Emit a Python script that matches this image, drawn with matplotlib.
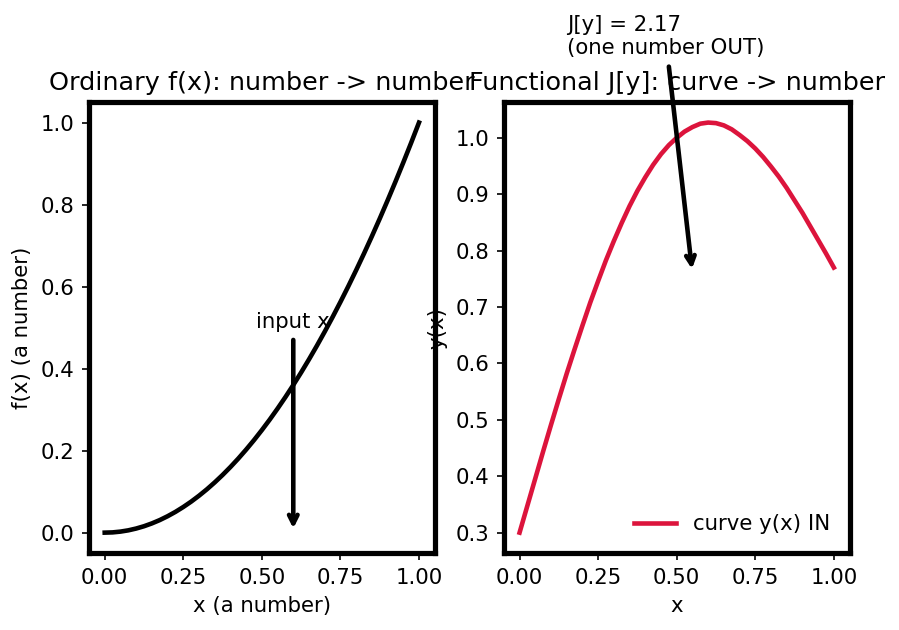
import matplotlib
matplotlib.use('Agg')
import matplotlib.pyplot as plt

plt.rcParams['font.size'] = 10.2

# left panel: ordinary function f(x)
x_left = [0.0, 0.025, 0.05, 0.075, 0.1, 0.125, 0.15, 0.175, 0.2, 0.225, 0.25,
          0.275, 0.3, 0.325, 0.35, 0.375, 0.4, 0.425, 0.45, 0.475, 0.5,
          0.525, 0.55, 0.575, 0.6, 0.625, 0.65, 0.675, 0.7, 0.725, 0.75,
          0.775, 0.8, 0.825, 0.85, 0.875, 0.9, 0.925, 0.95, 0.975, 1.0]
f_left = [0.0, 0.0006, 0.0025, 0.0056, 0.01, 0.0156, 0.0225, 0.0306, 0.04, 0.0506, 0.0625,
          0.0756, 0.09, 0.1056, 0.1225, 0.1406, 0.16, 0.1806, 0.2025, 0.2256, 0.25,
          0.2756, 0.3025, 0.3306, 0.36, 0.3906, 0.4225, 0.4556, 0.49, 0.5256, 0.5625,
          0.6006, 0.64, 0.6806, 0.7225, 0.7656, 0.81, 0.8556, 0.9025, 0.9506, 1.0]

# right panel: the curve fed into the functional
x_right = x_left
y_right = [0.300, 0.348, 0.396, 0.444, 0.491, 0.537, 0.582, 0.625, 0.667, 0.708, 0.746,
           0.783, 0.817, 0.849, 0.879, 0.906, 0.930, 0.952, 0.971, 0.987, 1.000,
           1.011, 1.019, 1.025, 1.027, 1.026, 1.022, 1.015, 1.005, 0.994, 0.981,
           0.966, 0.949, 0.931, 0.911, 0.889, 0.867, 0.843, 0.819, 0.795, 0.770]

J_value = 2.17
x_input = 0.6

fig, (ax1, ax2) = plt.subplots(1, 2, figsize=(899/150, 4.2), dpi=150)
fig.subplots_adjust(left=0.099, right=0.945, bottom=0.122, top=0.838, wspace=0.2)

ax1.plot(x_left, f_left, color='black', lw=2.2)
ax1.annotate('input x', xy=(x_input, 0.0), xytext=(x_input, 0.5), ha='center',
             arrowprops=dict(arrowstyle='->', lw=2.2, color='black'))
ax1.set_title('Ordinary f(x): number -> number')
ax1.set_xlabel('x (a number)')
ax1.set_ylabel('f(x) (a number)')

ax2.plot(x_right, y_right, color='crimson', lw=2.2, label='curve y(x) IN')
ax2.annotate('J[y] = {:.2f}\n(one number OUT)'.format(J_value), xy=(0.55, 0.76),
             xytext=(0.15, 1.148), ha='left', annotation_clip=False,
             arrowprops=dict(arrowstyle='->', lw=2.2, color='black'))
ax2.set_title('Functional J[y]: curve -> number')
ax2.set_xlabel('x')
ax2.set_ylabel('y(x)')
ax2.legend(loc='lower right', frameon=False)

for ax in (ax1, ax2):
    for sp in ax.spines.values():
        sp.set_linewidth(2.5)
    ax.set_xticks([0.0, 0.25, 0.5, 0.75, 1.0])

fig.savefig('out.png', dpi=150)
